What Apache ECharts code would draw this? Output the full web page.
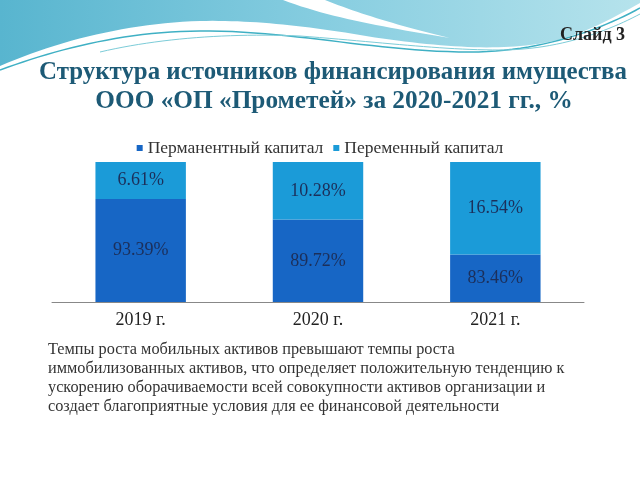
<!DOCTYPE html>
<html>
<head>
<meta charset="utf-8">
<script src="https://cdn.jsdelivr.net/npm/echarts@6/dist/echarts.min.js"></script>
<style>html,body{margin:0;padding:0;background:#fff}#c{width:640px;height:480px}</style>
</head>
<body>
<div id="c"></div>
<script>
var categories = ['2019 г.', '2020 г.', '2021 г.'];
var permanentCapital = [93.39, 89.72, 83.46];
var variableCapital = [6.61, 10.28, 16.54];
var seriesNames = ['Перманентный капитал', 'Переменный капитал'];
var titleLines = ['Структура источников финансирования имущества', 'ООО «ОП «Прометей» за 2020-2021 гг., %'];
var slideLabel = 'Слайд 3';
var bodyLines = [
  'Темпы роста мобильных активов превышают темпы роста',
  'иммобилизованных активов, что определяет положительную тенденцию к',
  'ускорению оборачиваемости всей совокупности активов организации и',
  'создает благоприятные условия для ее финансовой деятельности'
];

var serif = "'Liberation Serif', 'DejaVu Serif', serif";

// decorative wave: sample cubic bezier segments into point lists
function sampleCurve(start, segs) {
  var pts = [start.slice()];
  var p0 = start;
  segs.forEach(function (s) {
    if (s.length === 2) { pts.push(s.slice()); p0 = s; return; }
    var c1 = s[0], c2 = s[1], p3 = s[2];
    for (var i = 1; i <= 24; i++) {
      var t = i / 24, u = 1 - t;
      pts.push([
        u*u*u*p0[0] + 3*u*u*t*c1[0] + 3*u*t*t*c2[0] + t*t*t*p3[0],
        u*u*u*p0[1] + 3*u*u*t*c1[1] + 3*u*t*t*c2[1] + t*t*t*p3[1]
      ]);
    }
    p0 = p3;
  });
  return pts;
}

var tealPts = sampleCurve([0, 0], [[640, 0], [640, 3],
  [[600, 25], [570, 42], [520, 46]],
  [[480, 50], [420, 45], [360, 35]],
  [[300, 25], [250, 20], [200, 21]],
  [[130, 23], [60, 40], [0, 66]]]);
var streakPts = sampleCurve([283, 0], [[325, 0], [[360, 14], [400, 26], [450, 38]], [[390, 28], [330, 18], [283, 0]]]);
var line1Pts = sampleCurve([0, 70], [[[60, 48], [130, 30], [210, 31]], [[300, 32], [380, 52], [470, 52]], [[540, 52], [600, 30], [640, 8]]]);
var line2Pts = sampleCurve([100, 52], [[[160, 38], [230, 33], [300, 36]], [[380, 42], [440, 50], [500, 50]], [[560, 50], [610, 30], [640, 14]]]);

var chart = echarts.init(document.getElementById('c'));

var graphics = [
  { type: 'polygon', z: 0, silent: true, shape: { points: tealPts },
    style: { fill: new echarts.graphic.LinearGradient(0, 0, 1, 0, [{offset: 0, color: '#58b5cf'}, {offset: 0.5, color: '#86cde0'}, {offset: 1, color: '#b6e3ec'}]) } },
  { type: 'polygon', z: 1, silent: true, shape: { points: streakPts }, style: { fill: '#ffffff' } },
  { type: 'polyline', z: 1, silent: true, shape: { points: line1Pts }, style: { fill: null, stroke: '#3fb0c4', lineWidth: 1.5 } },
  { type: 'polyline', z: 1, silent: true, shape: { points: line2Pts }, style: { fill: null, stroke: '#7cccd8', lineWidth: 1 } },
  { type: 'text', z: 5,
    style: { text: slideLabel, x: 625, y: 35, textAlign: 'right', textVerticalAlign: 'middle', font: 'bold 18px ' + serif, fill: '#222' } },
  { type: 'text', z: 5,
    style: { text: titleLines[0], x: 333, y: 73, textAlign: 'center', textVerticalAlign: 'middle', font: 'bold 24.9px ' + serif, fill: '#1d5a76' } },
  { type: 'text', z: 5,
    style: { text: titleLines[1], x: 334, y: 101, textAlign: 'center', textVerticalAlign: 'middle', font: 'bold 25.3px ' + serif, fill: '#1d5a76' } }
];
bodyLines.forEach(function (t, i) {
  graphics.push({ type: 'text', z: 5, style: { text: t, x: 48, y: 350 + i * 19, textVerticalAlign: 'middle', font: '16.3px ' + serif, fill: '#333' } });
});

chart.setOption({
  animation: false,
  backgroundColor: '#ffffff',
  legend: {
    top: 134, left: 'center',
    itemWidth: 6, itemHeight: 6, itemGap: 10, icon: 'rect',
    textStyle: { fontFamily: serif, fontSize: 17.5, color: '#333' },
    data: seriesNames
  },
  grid: { left: 52, right: 56, top: 162, bottom: 178 },
  xAxis: {
    type: 'category', data: categories,
    axisLine: { lineStyle: { color: '#888', width: 1 } },
    axisTick: { show: false },
    axisLabel: { fontFamily: serif, fontSize: 18, color: '#222', margin: 9 }
  },
  yAxis: { type: 'value', min: 75, max: 100, show: false, splitLine: { show: false } },
  series: [
    { name: seriesNames[0], type: 'bar', stack: 'total', barWidth: '51%', data: permanentCapital,
      itemStyle: { color: '#1766c5' },
      label: { show: true, position: 'inside', formatter: function (p) { return p.value.toFixed(2) + '%'; }, fontFamily: serif, fontSize: 18, color: '#1c2f5a' } },
    { name: seriesNames[1], type: 'bar', stack: 'total', barWidth: '51%', data: variableCapital,
      itemStyle: { color: '#1b9bd8' },
      label: { show: true, position: 'inside', formatter: function (p) { return p.value.toFixed(2) + '%'; }, fontFamily: serif, fontSize: 18, color: '#1c2f5a' } }
  ],
  graphic: graphics
});
</script>
</body>
</html>
